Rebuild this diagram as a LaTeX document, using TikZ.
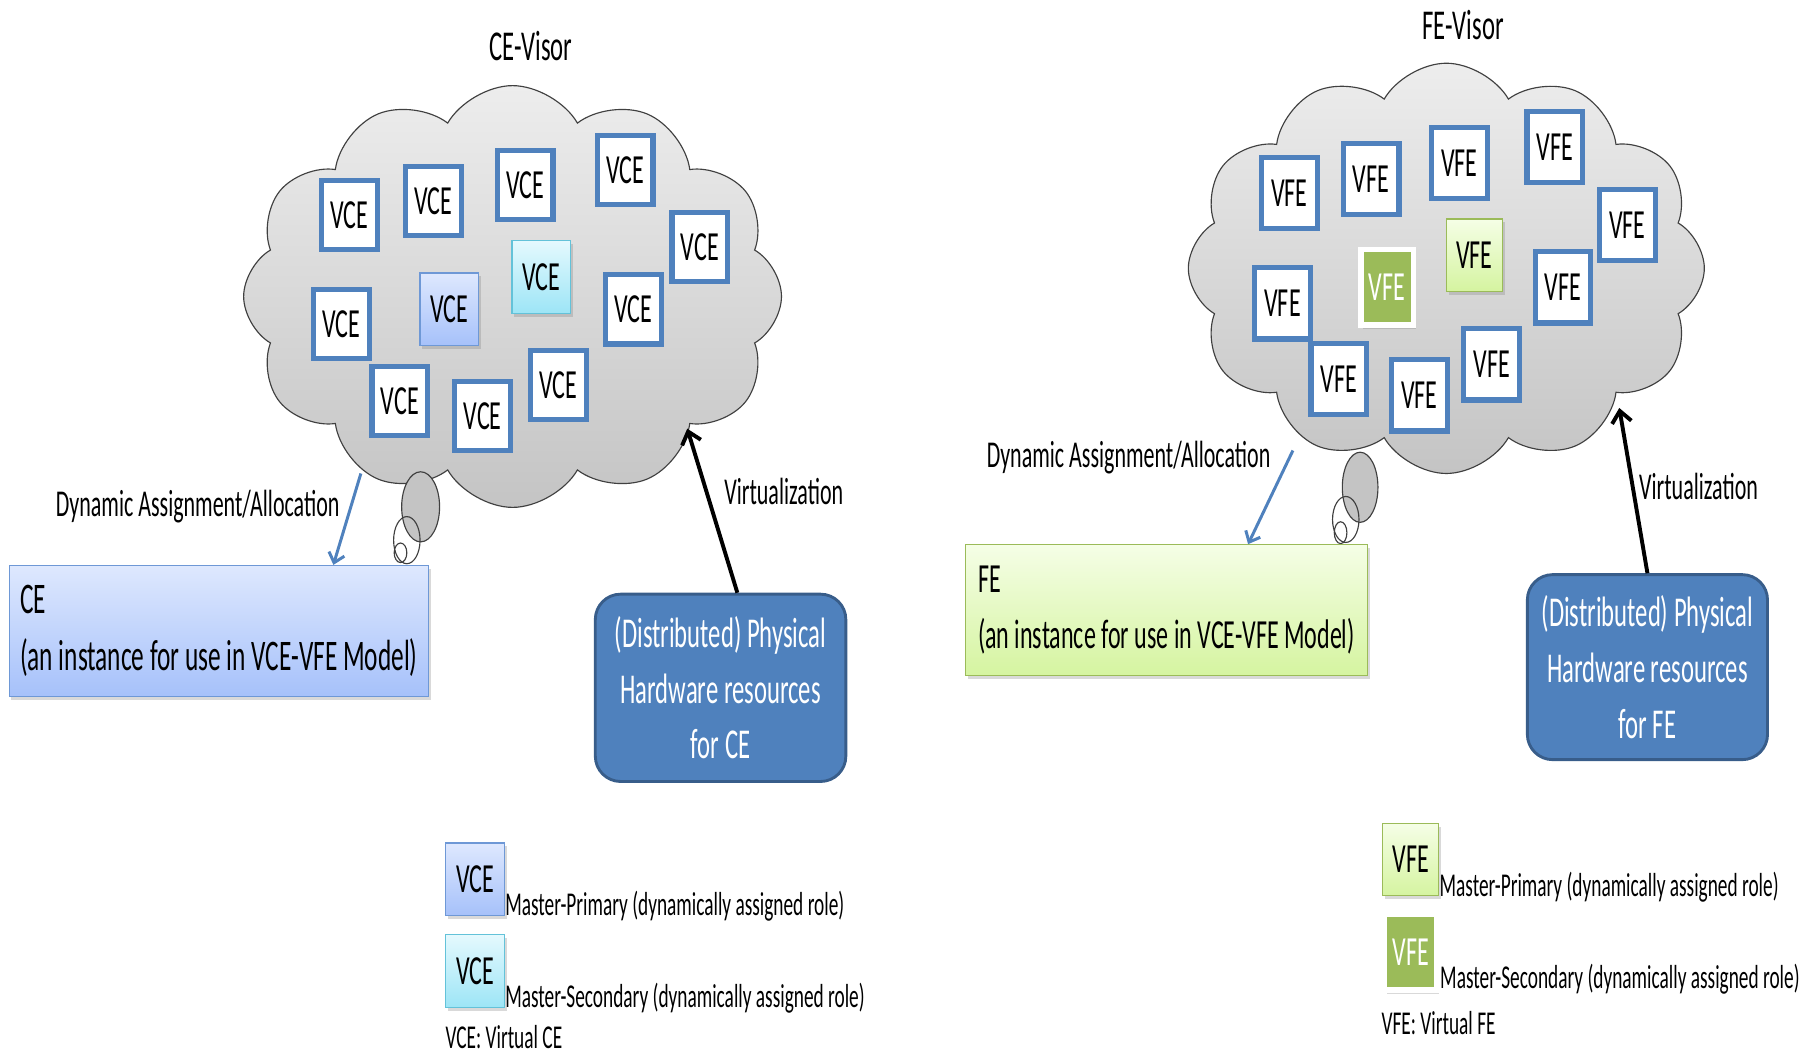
\documentclass[tikz,border=0pt]{standalone}
\usepackage{fontspec}
\setmainfont[FakeStretch=0.58]{Carlito}
\usetikzlibrary{arrows.meta,shapes.symbols,shadows}
\definecolor{office}{HTML}{4F81BD}
\definecolor{officedk}{HTML}{385D8A}
\definecolor{cloudtop}{HTML}{EDEDED}
\definecolor{cloudbot}{HTML}{C4C4C4}
\definecolor{ceTop}{HTML}{DEE8FE}
\definecolor{ceBot}{HTML}{A6C1FA}
\definecolor{ceLine}{HTML}{6E98D6}
\definecolor{secTop}{HTML}{E4F9FE}
\definecolor{secBot}{HTML}{9DE5F6}
\definecolor{secLine}{HTML}{63C2D9}
\definecolor{feTop}{HTML}{F5FEE6}
\definecolor{feBot}{HTML}{D5F4A0}
\definecolor{feLine}{HTML}{9BBB59}

\begin{document}
\begin{tikzpicture}[
  x=1pt,
  y=-1pt,
  cloudy/.style={cloud,cloud puffs=12,cloud puff arc=120,draw=black!75,line width=1pt,top color=cloudtop,bottom color=cloudbot,inner sep=0pt},
  bubble/.style={draw=black!75,line width=1pt},
  vbox/.style={draw=office,line width=4.5pt,fill=white,minimum width=48.5pt,minimum height=60.5pt,inner sep=0pt,font=\fontsize{36pt}{40pt}\selectfont},
  shade/.style={drop shadow={opacity=0.3,shadow xshift=2pt,shadow yshift=-3pt}},
  mprim/.style={vbox,shade,line width=1pt,draw=ceLine,top color=ceTop,bottom color=ceBot,minimum width=51pt,minimum height=63pt},
  msec/.style={vbox,shade,line width=1pt,draw=secLine,top color=secTop,bottom color=secBot,minimum width=51pt,minimum height=63pt},
  fprim/.style={vbox,shade,line width=1pt,draw=feLine,top color=feTop,bottom color=feBot,minimum width=49pt,minimum height=63pt},
  fsec/.style={vbox,shade,line width=5pt,draw=white,fill=feLine,text=white,minimum width=46pt,minimum height=66pt},
  inst/.style={shade,line width=1pt,minimum height=114pt,inner sep=0pt,align=left,font=\fontsize{38pt}{49pt}\selectfont},
  phys/.style={fill=office,draw=officedk,line width=2.5pt,rounded corners=22pt,text=white,align=center,inner sep=0pt,font=\fontsize{37pt}{48.5pt}\selectfont},
  title/.style={font=\fontsize{37pt}{40pt}\selectfont},
  lab/.style={font=\fontsize{33pt}{36pt}\selectfont},
  legtxt/.style={inner sep=0pt,font=\fontsize{29pt}{34pt}\selectfont},
  assign/.style={draw=office,line width=2.6pt,-{Straight Barb[length=8pt,width=14pt]}},
  virt/.style={draw=black,line width=3.4pt,-{Straight Barb[length=10pt,width=17pt]}}
]
\useasboundingbox (0,0) rectangle (1568,919);

\node[cloudy,minimum width=468pt,minimum height=367pt] (cloudL) at (446,258) {};
\path[bubble,fill=cloudbot] (366,441) ellipse [x radius=16.5,y radius=30.5];
\path[bubble] (354,470) ellipse [x radius=11.5,y radius=20.5];
\path[bubble] (348.5,481) ellipse [x radius=5.5,y radius=8.5];
\node[title] (visorL) at (462,40) {CE-Visor};
\foreach \px/\py [count=\i] in {304/187,377/175,457/161,544/148,609/215,297/282,551/269,348/349,420/362,486/335} {
  \node[vbox] (vce\i) at (\px,\py) {VCE};
}
\node[mprim] (vceP) at (391,269) {VCE};
\node[msec] (vceS) at (471,241) {VCE};

\node[inst,top color=ceTop,bottom color=ceBot,draw=ceLine,minimum width=365pt] (ceBox) at (190.5,549) {CE\\(an instance for use in VCE-VFE Model)};
\node[phys,minimum width=218pt,minimum height=163pt] (phyL) at (627,598.5) {(Distributed) Physical\\Hardware resources\\for CE};
\coordinate (dynL) at (314,412);
\coordinate (virtL) at (598,373);
\draw[assign] (dynL) -- (ceBox.30);
\draw[virt] (phyL.80) -- (virtL);
\node[lab] (dynLtxt) at (172,441) {Dynamic Assignment/Allocation};
\node[lab] (virtLtxt) at (682,428) {Virtualization};

\node[mprim] (legL1) at (413.5,765) {VCE};
\node[msec] (legL2) at (413.5,845) {VCE};
\node[legtxt,anchor=base west] (legL1t) at (legL1.south east) {Master-Primary (dynamically assigned role)};
\node[legtxt,anchor=base west] (legL2t) at (legL2.south east) {Master-Secondary (dynamically assigned role)};
\node[legtxt,anchor=base west] (legL3) at ([yshift=-35pt]legL2.south west) {VCE: Virtual CE};

\node[cloudy,minimum width=449pt,minimum height=357pt] (cloudR) at (1258.5,233.5) {};
\path[bubble,fill=cloudbot] (1183.5,424) ellipse [x radius=15.5,y radius=30.5];
\path[bubble] (1171,452) ellipse [x radius=11.5,y radius=20];
\path[bubble] (1166.5,463.5) ellipse [x radius=5.5,y radius=9.5];
\node[title] (visorR) at (1273,22) {FE-Visor};
\foreach \px/\py [count=\i] in {1122/168,1193/156,1270/142,1353/128,1416/196,1116/264,1360/250,1165/330,1235/344,1298/317} {
  \node[vbox,minimum height=62pt] (vfe\i) at (\px,\py) {VFE};
}
\node[fsec] (vfeS) at (1207,250) {VFE};
\node[fprim] (vfeP) at (1283,222) {VFE};

\node[inst,top color=feTop,bottom color=feBot,draw=feLine,minimum width=350pt,font=\fontsize{36pt}{49pt}\selectfont] (feBox) at (1015,531) {FE\\(an instance for use in VCE-VFE Model)};
\node[phys,minimum width=209pt,minimum height=161pt] (phyR) at (1433.5,580.5) {(Distributed) Physical\\Hardware resources\\for FE};
\coordinate (dynR) at (1125,392);
\coordinate (virtR) at (1409,355);
\draw[assign] (dynR) -- (feBox.39);
\draw[virt] (phyR.north) -- (virtR);
\node[lab] (dynRtxt) at (982,398) {Dynamic Assignment/Allocation};
\node[lab] (virtRtxt) at (1478,423) {Virtualization};

\node[fprim] (legR1) at (1227.5,748) {VFE};
\node[fsec] (legR2) at (1227.5,828.5) {VFE};
\node[legtxt,anchor=base west] (legR1t) at (legR1.south east) {Master-Primary (dynamically assigned role)};
\node[legtxt,anchor=base west] (legR2t) at ([yshift=4pt]legR2.south east) {Master-Secondary (dynamically assigned role)};
\node[legtxt,anchor=base west] (legR3) at ([yshift=-36pt]legR2.south west) {VFE: Virtual FE};
\end{tikzpicture}
\end{document}
